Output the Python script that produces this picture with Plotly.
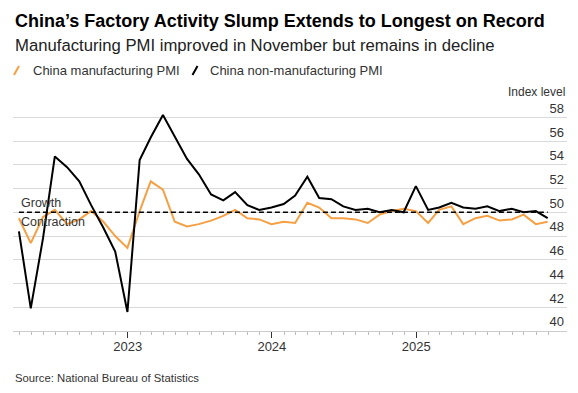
import pandas as pd
import plotly.graph_objects as go

# Monthly observations (month-end), Mar 2022 - Nov 2025
months = pd.date_range("2022-03-31", "2025-11-30", freq="ME")

manufacturing = [
    49.5, 47.4, 49.6, 50.2, 49.0, 49.4, 50.1, 49.2, 48.0, 47.0,          # 2022 Mar-Dec
    50.1, 52.6, 51.9, 49.2, 48.8, 49.0, 49.3, 49.7, 50.2, 49.5, 49.4, 49.0,  # 2023
    49.2, 49.1, 50.8, 50.4, 49.5, 49.5, 49.4, 49.1, 49.8, 50.1, 50.3, 50.1,  # 2024
    49.1, 50.2, 50.5, 49.0, 49.5, 49.7, 49.3, 49.4, 49.8, 49.0, 49.2,        # 2025
]
non_manufacturing = [
    48.4, 41.9, 47.8, 54.7, 53.8, 52.6, 50.6, 48.7, 46.7, 41.6,
    54.4, 56.3, 58.2, 56.4, 54.5, 53.2, 51.5, 51.0, 51.7, 50.6, 50.2, 50.4,
    50.7, 51.4, 53.0, 51.2, 51.1, 50.5, 50.2, 50.3, 50.0, 50.2, 50.0, 52.2,
    50.2, 50.4, 50.8, 50.4, 50.3, 50.5, 50.1, 50.3, 50.0, 50.1, 49.5,
]
threshold = 50
y_ticks = list(range(40, 59, 2))

title = "China’s Factory Activity Slump Extends to Longest on Record"
subtitle = "Manufacturing PMI improved in November but remains in decline"
legend_names = ["China manufacturing PMI", "China non-manufacturing PMI"]
source = "Source: National Bureau of Statistics"

ORANGE = "#F5A044"
FONT = "Liberation Sans"

# the page body adds an 8px margin; lay the figure out in window pixels minus that
OFF = 8
W, H = 578 - OFF, 393 - OFF
PLOT_L, PLOT_R, PLOT_T, PLOT_B = 13, 567, 98, 331   # window pixels
ML, MR, MT, MB = PLOT_L - OFF, OFF + W - PLOT_R, PLOT_T - OFF, OFF + H - PLOT_B
PW, PH = PLOT_R - PLOT_L, PLOT_B - PLOT_T
Y_TOP = 40 + PH / 11.872


def px(x):
    return (x - PLOT_L) / PW


def py(y):
    return (PLOT_B - y) / PH


fig = go.Figure()
fig.add_trace(go.Scatter(x=months, y=manufacturing, mode="lines",
                         line=dict(color=ORANGE, width=2), name=legend_names[0]))
fig.add_trace(go.Scatter(x=months, y=non_manufacturing, mode="lines",
                         line=dict(color="#000000", width=2), name=legend_names[1]))

# 50 threshold dashed line across the data span
fig.add_shape(type="line", xref="x", yref="y", x0=months[0], x1=months[-1],
              y0=threshold, y1=threshold, line=dict(color="#000", width=1.5, dash="5px,3px"))


def note(text, x, y, size, color="#333", anchor="left"):
    return dict(text=text, x=px(x), y=py(y), xref="paper", yref="paper",
                xanchor=anchor, yanchor="middle", showarrow=False,
                font=dict(size=size, color=color, family=FONT))


ann = [
    note("<b>" + title + "</b>", 13, 21, 18, "#000"),
    note(subtitle, 13, 45.5, 16.7, "#222"),
    note(legend_names[0], 31, 70, 13),
    note(legend_names[1], 208, 70, 13),
    note("Index level", 567, 92, 12, anchor="right"),
    note(source, 13, 378, 11.3),
    note("Growth", 19, 203, 12.5),
    note("Contraction", 19, 221.5, 12.5),
]

# legend slanted icons
for x0, col in [(14, ORANGE), (192.5, "#000")]:
    fig.add_shape(type="line", xref="paper", yref="paper",
                  x0=px(x0), y0=py(75), x1=px(x0 + 5), y1=py(66),
                  line=dict(color=col, width=2))

fig.update_layout(
    width=W, height=H, margin=dict(l=ML, r=MR, t=MT, b=MB, pad=0),
    paper_bgcolor="white", plot_bgcolor="white",
    showlegend=False, annotations=ann,
    font=dict(family=FONT, color="#333"),
    xaxis=dict(
        range=["2022-03-16", "2026-01-18"], automargin=False,
        showgrid=False, zeroline=False,
        showline=True, linecolor="#cccccc", linewidth=1,
        ticks="outside", ticklen=6, tickcolor="#333", tickwidth=1,
        ticklabelstandoff=-3,
        dtick="M12", tick0="2023-01-01", tickformat="%Y",
        tickfont=dict(size=13, color="#333", family=FONT),
        minor=dict(dtick="M1", tick0="2022-01-01", ticks="outside", ticklen=3,
                   tickcolor="#bbbbbb", showgrid=False),
    ),
    yaxis=dict(
        range=[40, Y_TOP], side="right", automargin=False,
        tickmode="array", tickvals=y_ticks, ticktext=[str(v) for v in y_ticks],
        ticklabelposition="inside top", ticks="",
        showgrid=True, gridcolor="#d9d9d9", gridwidth=1,
        zeroline=False, showline=False,
        tickfont=dict(size=13, color="#333", family=FONT),
    ),
)

fig.write_html("out.html")
